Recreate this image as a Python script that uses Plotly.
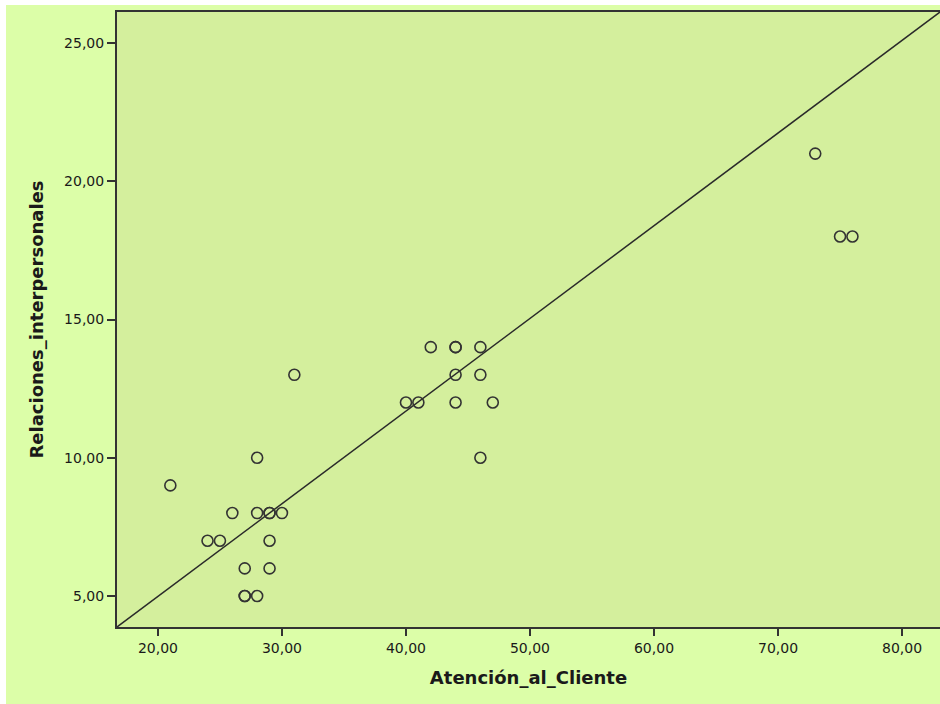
import plotly.graph_objects as go

# Data
atencion_al_cliente = [21, 24, 25, 26, 28, 29, 29, 30, 28, 31, 29, 27, 29, 27, 27, 28,
                       40, 41, 42, 44, 44, 46, 44, 46, 44, 47, 46, 73, 75, 76]
relaciones_interpersonales = [9, 7, 7, 8, 8, 8, 8, 8, 10, 13, 7, 6, 6, 5, 5, 5,
                              12, 12, 14, 14, 14, 14, 13, 13, 12, 12, 10, 21, 18, 18]

# Fitted line end points
line_x = [16.7, 83.06]
line_y = [3.88, 26.12]

x_tickvals = [20, 30, 40, 50, 60, 70, 80]
x_ticktext = ["20,00", "30,00", "40,00", "50,00", "60,00", "70,00", "80,00"]
y_tickvals = [5, 10, 15, 20, 25]
y_ticktext = ["5,00", "10,00", "15,00", "20,00", "25,00"]

outer_bg = "#DCFEA8"
plot_bg = "#D4EF9D"
ink = "#2a2a2a"

fig = go.Figure()
fig.add_trace(go.Scatter(
    x=line_x, y=line_y, mode="lines",
    line=dict(color=ink, width=1.5), hoverinfo="skip", showlegend=False))
fig.add_trace(go.Scatter(
    x=atencion_al_cliente, y=relaciones_interpersonales, mode="markers",
    marker=dict(symbol="circle-open", size=11, color="#333333",
                line=dict(width=1.6, color="#333333")),
    showlegend=False))

fig.update_layout(
    width=934, height=699,
    margin=dict(l=111, r=0, t=7, b=77),
    paper_bgcolor=outer_bg, plot_bgcolor=plot_bg,
    font=dict(family="DejaVu Sans", size=14, color="#1a1a1a"),
    xaxis=dict(range=[16.7, 83.06], tickvals=x_tickvals, ticktext=x_ticktext,
               showgrid=False, zeroline=False, showline=True, linecolor="#333333",
               linewidth=2, mirror=True, ticks="outside", ticklen=7, tickwidth=2,
               tickcolor="#333333",
               title=dict(text="<b>Atención_al_Cliente</b>", font=dict(size=18),
                          standoff=17)),
    yaxis=dict(range=[3.88, 26.12], tickvals=y_tickvals, ticktext=y_ticktext,
               showgrid=False, zeroline=False, showline=True, linecolor="#333333",
               linewidth=2, ticks="outside", ticklen=8, tickwidth=2,
               tickcolor="#333333",
               title=dict(text="<b>Relaciones_interpersonales</b>", font=dict(size=18),
                          standoff=16)),
)

fig.write_html("out.html", post_script="document.body.style.margin='5px 0 0 6px';document.body.style.background='#ffffff';")
